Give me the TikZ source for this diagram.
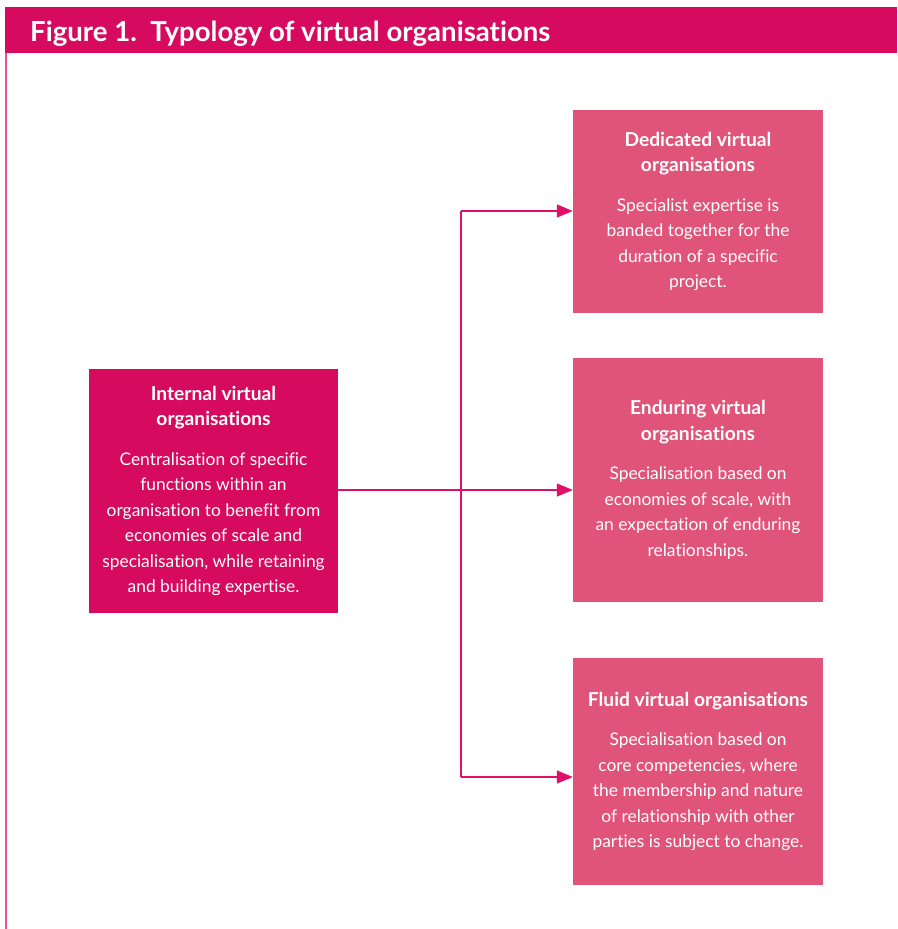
\documentclass[tikz,border=0pt]{standalone}
\usepackage{fontspec}
\setmainfont{Lato}[Ligatures=NoCommon]
\usetikzlibrary{arrows.meta}
\definecolor{magenta}{RGB}{214,10,94}
\definecolor{rosebox}{RGB}{224,84,122}
\definecolor{linkline}{RGB}{224,16,106}
\definecolor{frameline}{RGB}{238,80,150}
\tikzset{
  x=1pt, y=-1pt,
  typebox/.style={fill=rosebox, text=white, minimum width=250pt, align=center,
    inner sep=0pt, font=\fontsize{17.4}{25.5}\selectfont},
  mainbox/.style={typebox, fill=magenta, minimum width=249pt},
  link/.style={draw=linkline, line width=1.2pt, -{Triangle[length=16pt,width=13pt]}},
  plainlink/.style={draw=linkline, line width=1.2pt}
}
\newcommand{\boxhead}[1]{{\fontsize{19.2}{25.5}\selectfont\bfseries #1}}
\begin{document}
\begin{tikzpicture}
\useasboundingbox (0,0) rectangle (897,929);
% header band and frame
\fill[magenta] (5,7) rectangle (897,53);
\draw[frameline, line width=2pt] (6,53) -- (6,929);
\node[anchor=west, text=white, font=\fontsize{27.6}{32}\selectfont\bfseries, inner sep=0pt]
  (title) at (30,34) {Figure 1.\ \ Typology of virtual organisations};

% boxes
\node[mainbox, minimum height=244pt] (internal) at (213.5,491)
  {\boxhead{Internal virtual}\\\boxhead{organisations}\\[14pt]
   Centralisation of specific\\functions within an\\organisation to benefit from\\
   economies of scale and\\specialisation, while retaining\\and building expertise.};
\node[typebox, minimum height=203pt] (dedicated) at (698,211.5)
  {\boxhead{Dedicated virtual}\\\boxhead{organisations}\\[14pt]
   Specialist expertise is\\banded together for the\\duration of a specific\\project.};
\node[typebox, minimum height=244pt] (enduring) at (698,480)
  {\boxhead{Enduring virtual}\\\boxhead{organisations}\\[14pt]
   Specialisation based on\\economies of scale, with\\an expectation of enduring\\relationships.};
\node[typebox, minimum height=227pt] (fluid) at (698,771.5)
  {\boxhead{Fluid virtual organisations}\\[14pt]
   Specialisation based on\\core competencies, where\\the membership and nature\\
   of relationship with other\\parties is subject to change.};

% connectors
\coordinate (split top) at (461,211);
\coordinate (split bottom) at (461,777);
\draw[plainlink] (split top) -- (split bottom);
\draw[link] (split top) -- (split top -| dedicated.west);
\draw[link] (split bottom) -- (split bottom -| fluid.west);
\draw[link] (internal.east |- 0,490) -- (enduring.west |- 0,490);
\end{tikzpicture}
\end{document}
